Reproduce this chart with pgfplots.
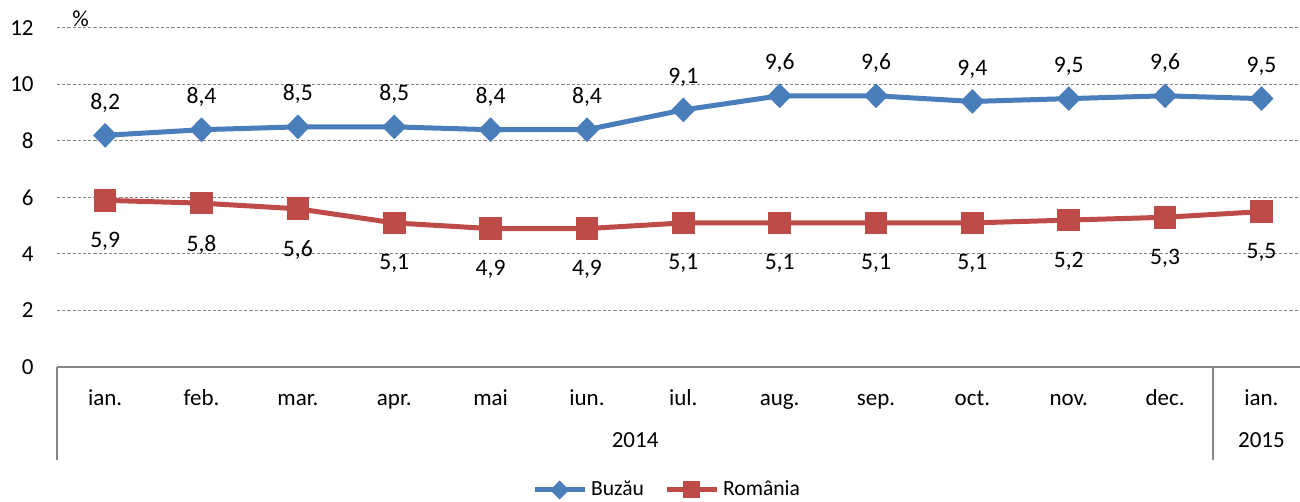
\documentclass[border=0pt]{standalone}
\usepackage{pgfplots}
\pgfplotsset{compat=1.18}
\usepackage{fontspec}
\setmainfont{Carlito}
\definecolor{buz}{RGB}{74,126,187}
\definecolor{rom}{RGB}{190,75,72}
\definecolor{gridc}{RGB}{134,134,134}

\begin{document}
\fontsize{11.5}{13}\selectfont
\begin{tikzpicture}
  \useasboundingbox (0,0) rectangle (650pt,251pt);
  \begin{axis}[
    at={(28.5pt,67.5pt)}, anchor=south west,
    scale only axis,
    width=621.5pt, height=169.5pt,
    xmin=-0.5, xmax=12.4,
    ymin=0, ymax=12,
    ytick={0,2,...,12},
    xtick=\empty,
    axis x line=none, axis y line*=left,
    y axis line style={draw=none},
    major tick length=0pt,
    ymajorgrids=true,
    grid style={gridc, line width=0.5pt, dash pattern=on 1.6pt off 1pt},
    yticklabel style={inner sep=0pt, xshift=-11.5pt},
    /pgf/number format/assume math mode=true,
    clip=false,
    every node near coord/.append style={font=\fontsize{11.8}{13}\selectfont, text=black},
    legend columns=2,
    legend style={at={(axis description cs:0.4916,0)}, anchor=center, yshift=-61.5pt,
      draw=none, font=\fontsize{10.8}{12}\selectfont,
      /tikz/every even column/.append style={column sep=8pt}},
    legend image code/.code={
      \draw[mark repeat=2,mark phase=2,#1,mark size=3pt] plot coordinates {(0pt,0pt)(12.5pt,0pt)(25pt,0pt)};},
  ]
    % category frame
    \draw[gridc, line width=0.8pt] (axis cs:-0.5,0) -- (axis cs:12.4,0);
    \draw[gridc, line width=0.8pt] (axis cs:-0.5,0) -- ([yshift=-46.5pt]axis cs:-0.5,0);
    \draw[gridc, line width=0.8pt] (axis cs:11.5,0) -- ([yshift=-46.5pt]axis cs:11.5,0);
    % category labels
    \node[anchor=base] at (axis cs:0,0) [yshift=-19.5pt] {ian.};
    \node[anchor=base] at (axis cs:1,0) [yshift=-19.5pt] {feb.};
    \node[anchor=base] at (axis cs:2,0) [yshift=-19.5pt] {mar.};
    \node[anchor=base] at (axis cs:3,0) [yshift=-19.5pt] {apr.};
    \node[anchor=base] at (axis cs:4,0) [yshift=-19.5pt] {mai};
    \node[anchor=base] at (axis cs:5,0) [yshift=-19.5pt] {iun.};
    \node[anchor=base] at (axis cs:6,0) [yshift=-19.5pt] {iul.};
    \node[anchor=base] at (axis cs:7,0) [yshift=-19.5pt] {aug.};
    \node[anchor=base] at (axis cs:8,0) [yshift=-19.5pt] {sep.};
    \node[anchor=base] at (axis cs:9,0) [yshift=-19.5pt] {oct.};
    \node[anchor=base] at (axis cs:10,0) [yshift=-19.5pt] {nov.};
    \node[anchor=base] at (axis cs:11,0) [yshift=-19.5pt] {dec.};
    \node[anchor=base] at (axis cs:12,0) [yshift=-19.5pt] {ian.};
    \node[anchor=base] at (axis cs:5.5,0) [yshift=-40.5pt] {2014};
    \node[anchor=base] at (axis cs:12,0) [yshift=-40.5pt] {2015};
    \node[anchor=base west, inner sep=0pt] at (axis cs:-0.5,12) [xshift=7.5pt, yshift=0.8pt] {\%};

    \addplot[buz, line width=2.5pt, mark=diamond*, mark size=4.4pt,
      mark options={xscale=1.3, solid},
      nodes near coords={\pgfmathprintnumber[fixed,fixed zerofill,precision=1,use comma]{\pgfplotspointmeta}},
      nodes near coords align={above}, every node near coord/.append style={yshift=6.5pt}]
    coordinates {(0,8.2)(1,8.4)(2,8.5)(3,8.5)(4,8.4)(5,8.4)(6,9.1)(7,9.6)(8,9.6)(9,9.4)(10,9.5)(11,9.6)(12,9.5)};
    \addlegendentry{Buzău}

    \addplot[rom, line width=2.5pt, mark=square*, mark size=4.4pt, mark options={solid},
      nodes near coords={\pgfmathprintnumber[fixed,fixed zerofill,precision=1,use comma]{\pgfplotspointmeta}},
      nodes near coords align={below}, every node near coord/.append style={yshift=-10.8pt}]
    coordinates {(0,5.9)(1,5.8)(2,5.6)(3,5.1)(4,4.9)(5,4.9)(6,5.1)(7,5.1)(8,5.1)(9,5.1)(10,5.2)(11,5.3)(12,5.5)};
    \addlegendentry{România}
  \end{axis}
\end{tikzpicture}
\end{document}
